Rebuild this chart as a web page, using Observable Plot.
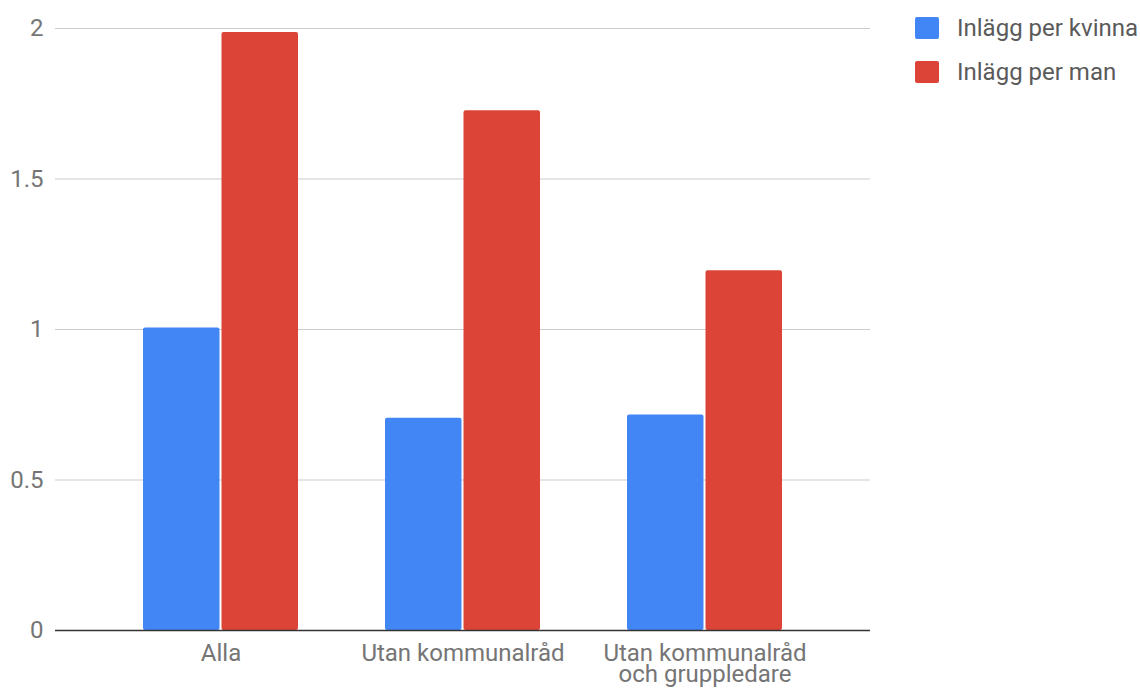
<!DOCTYPE html>
<html>
<head>
<meta charset="utf-8">
<script src="https://cdn.jsdelivr.net/npm/d3@7"></script>
<script src="https://cdn.jsdelivr.net/npm/@observablehq/plot@0.6"></script>
<style>
  html, body { margin: 0; padding: 0; background: #fff; }
  #wrap { position: relative; width: 1140px; height: 688px; font-family: Roboto, sans-serif; }
  #legend { position: absolute; left: 915px; top: 17px; }
  .item { display: flex; align-items: center; height: 22px; margin-bottom: 22px; }
  .sw { width: 24px; height: 22px; border-radius: 2px; margin-right: 18px; }
  .lab { font-size: 24px; color: #5a5a5a; white-space: nowrap; }
</style>
</head>
<body>
<div id="wrap"><div id="chart"></div><div id="legend"></div></div>
<script>
const categories = ["Alla", "Utan kommunalråd", "Utan kommunalråd\noch gruppledare"];
const seriesNames = ["Inlägg per kvinna", "Inlägg per man"];
const perKvinna = [1.005, 0.705, 0.716];
const perMan = [1.987, 1.727, 1.195];
const colors = ["#4285F4", "#DB4437"];
const yTicks = [0, 0.5, 1, 1.5, 2];

const W = 880, ML = 55, MR = 10;
const padIn = 0.358, padOut = 0.356;
const bandwidth = (W - ML - MR) / (categories.length - padIn + 2 * padOut) * (1 - padIn);
const half = bandwidth / 2;

const kvinnaData = categories.map((c, i) => ({category: c, series: seriesNames[0], value: perKvinna[i]}));
const manData = categories.map((c, i) => ({category: c, series: seriesNames[1], value: perMan[i]}));

const chart = Plot.plot({
  width: W,
  height: 688,
  marginLeft: ML,
  marginRight: MR,
  marginTop: 28,
  marginBottom: 58,
  style: {fontFamily: "Roboto, sans-serif", fontSize: "24px", background: "#fff"},
  x: {domain: categories, paddingInner: padIn, paddingOuter: padOut, label: null},
  y: {domain: [0, 2], label: null},
  color: {domain: seriesNames, range: colors},
  marks: [
    Plot.gridY(yTicks, {stroke: "#cccccc", strokeOpacity: 1, strokeWidth: 1.2}),
    Plot.axisY(yTicks, {tickSize: 0, tickPadding: 12, fill: "#757575", fontSize: 24, tickFormat: d => String(d), label: null}),
    Plot.barY(kvinnaData, {x: "category", y: "value", fill: "series", insetLeft: 0, insetRight: half + 0.5, rx: 2}),
    Plot.barY(manData, {x: "category", y: "value", fill: "series", insetLeft: half + 0.5, insetRight: 0, rx: 2}),
    Plot.ruleY([0], {stroke: "#333", strokeWidth: 1.6}),
    Plot.axisX({tickSize: 0, tickPadding: 15, fill: "#757575", fontSize: 24, lineHeight: 0.9, label: null})
  ]
});
document.getElementById("chart").appendChild(chart);

const legend = document.getElementById("legend");
seriesNames.forEach((s, i) => {
  const item = document.createElement("div");
  item.className = "item";
  const sw = document.createElement("div");
  sw.className = "sw";
  sw.style.background = colors[i];
  const lab = document.createElement("div");
  lab.className = "lab";
  lab.textContent = s;
  item.appendChild(sw);
  item.appendChild(lab);
  legend.appendChild(item);
});
</script>
</body>
</html>
